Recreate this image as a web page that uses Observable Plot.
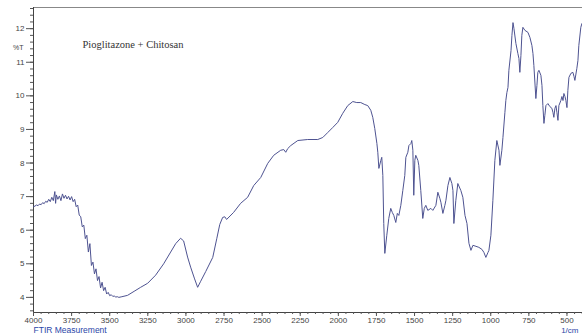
<!DOCTYPE html>
<html>
<head>
<meta charset="utf-8">
<script src="https://cdn.jsdelivr.net/npm/d3@7"></script>
<script src="https://cdn.jsdelivr.net/npm/@observablehq/plot@0.6"></script>
<style>
  html, body { margin: 0; padding: 0; background: #fff; }
  #chart { width: 582px; height: 336px; }
</style>
</head>
<body>
<div id="chart"></div>
<script>
// Wavenumber (1/cm) and transmittance (%T)
const wavenumber = [
  4000, 3990, 3980, 3970, 3960, 3950, 3940, 3930, 3920, 3910,
  3900, 3890, 3880, 3870, 3860, 3855, 3850, 3840, 3830, 3820,
  3810, 3800, 3790, 3780, 3770, 3760, 3750, 3740, 3730, 3720,
  3710, 3700, 3690, 3680, 3670, 3660, 3650, 3640, 3630, 3620,
  3610, 3600, 3590, 3580, 3570, 3560, 3550, 3540, 3530, 3520,
  3510, 3500, 3490, 3480, 3470, 3460, 3450, 3440, 3420, 3383,
  3340, 3297, 3251, 3199, 3146, 3100, 3067, 3035, 3015, 2989,
  2969, 2943, 2923, 2903, 2870, 2824, 2797, 2778, 2759, 2745,
  2733, 2687, 2641, 2595, 2555, 2509, 2463, 2424, 2378, 2358,
  2345, 2332, 2312, 2266, 2201, 2135, 2102, 2069, 2036, 2004,
  1971, 1938, 1905, 1879, 1853, 1826, 1807, 1787, 1774, 1761,
  1747, 1741, 1734, 1721, 1715, 1708, 1702, 1695, 1682, 1669,
  1656, 1646, 1636, 1623, 1613, 1603, 1590, 1577, 1564, 1557,
  1544, 1537, 1524, 1518, 1511, 1505, 1498, 1492, 1478, 1472,
  1459, 1446, 1436, 1426, 1413, 1393, 1380, 1360, 1347, 1334,
  1327, 1314, 1301, 1294, 1281, 1268, 1255, 1248, 1242, 1229,
  1216, 1196, 1183, 1169, 1156, 1143, 1130, 1117, 1097, 1078,
  1058, 1045, 1032, 1018, 1012, 999, 986, 973, 960, 946,
  940, 927, 920, 907, 901, 894, 887, 881, 867, 861,
  854, 848, 835, 822, 815, 809, 802, 796, 789, 776,
  756, 743, 730, 723, 717, 704, 697, 691, 684, 671,
  664, 658, 651, 645, 638, 625, 612, 599, 592, 586,
  579, 572, 566, 559, 553, 540, 533, 526, 520, 513,
  507, 500, 494, 487, 474, 461, 454, 448, 435, 428,
  422, 409, 402
];
const transmittance = [
  6.70, 6.72, 6.75, 6.73, 6.78, 6.76, 6.82, 6.79, 6.86, 6.83,
  6.92, 6.85, 6.98, 6.88, 7.15, 6.80, 7.05, 6.92, 7.02, 6.88,
  7.08, 6.95, 7.04, 6.93, 7.01, 6.90, 7.00, 6.85, 6.92, 6.70,
  6.75, 6.45, 6.40, 6.10, 6.15, 5.75, 5.85, 5.35, 5.60, 4.95,
  5.05, 4.70, 4.85, 4.50, 4.62, 4.28, 4.45, 4.20, 4.30, 4.10,
  4.15, 4.05, 4.08, 4.03, 4.04, 4.01, 4.02, 4.00, 4.02, 4.06,
  4.18, 4.30, 4.42, 4.66, 5.00, 5.35, 5.60, 5.76, 5.68, 5.20,
  4.90, 4.55, 4.30, 4.48, 4.77, 5.19, 5.76, 6.17, 6.38, 6.40,
  6.32, 6.53, 6.80, 6.98, 7.33, 7.57, 7.99, 8.23, 8.38, 8.40,
  8.32, 8.43, 8.52, 8.67, 8.70, 8.70, 8.76, 8.91, 9.06, 9.21,
  9.48, 9.71, 9.83, 9.80, 9.80, 9.74, 9.71, 9.57, 9.36, 9.03,
  8.58, 8.32, 7.84, 8.08, 8.17, 7.63, 6.20, 5.31, 5.85, 6.35,
  6.65, 6.53, 6.44, 6.23, 6.50, 6.44, 6.74, 7.18, 7.63, 8.17,
  8.32, 8.52, 8.58, 8.67, 8.38, 7.04, 8.08, 8.23, 8.08, 7.93,
  7.18, 6.35, 6.65, 6.74, 6.59, 6.65, 6.59, 6.74, 7.13, 6.95,
  6.83, 6.50, 6.74, 6.89, 7.33, 7.57, 7.39, 7.18, 6.20, 6.89,
  7.39, 7.18, 6.98, 6.44, 6.20, 5.61, 5.40, 5.55, 5.52, 5.49,
  5.43, 5.34, 5.19, 5.34, 5.40, 5.85, 6.89, 8.08, 8.67, 8.38,
  7.93, 8.38, 8.76, 9.51, 9.86, 10.10, 10.25, 10.76, 11.35, 11.80,
  12.18, 12.01, 11.56, 11.26, 11.11, 10.70, 11.20, 11.80, 12.04, 11.95,
  11.89, 11.74, 11.50, 11.26, 10.90, 9.92, 10.31, 10.70, 10.76, 10.61,
  10.31, 9.71, 9.18, 9.42, 9.71, 9.77, 9.68, 9.63, 9.51, 9.36,
  9.63, 9.71, 9.51, 9.27, 9.71, 9.86, 9.98, 9.86, 10.07, 9.98,
  9.86, 9.65, 10.16, 10.55, 10.67, 10.70, 10.58, 10.46, 10.82, 11.05,
  11.50, 12.04, 12.15
];
const xTickLabels = [4000, 3750, 3500, 3250, 3000, 2750, 2500, 2250, 2000, 1750, 1500, 1250, 1000, 750, 500];
const yTickLabels = [4, 5, 6, 7, 8, 9, 10, 11, 12];
const titleText = ["Pioglitazone + Chitosan"];
const yUnit = ["%T"];
const xTitle = ["FTIR Measurement"];
const xUnit = ["1/cm"];

const spectrum = wavenumber.map((w, i) => ({w, t: transmittance[i]}));
const xDomain = [4000, 398];
const yDomain = [3.55, 12.63];
const xMinor = d3.range(400, 4001, 50);
const yMinor = d3.range(36, 127, 2).map(v => v / 10);

const chart = Plot.plot({
  width: 582,
  height: 336,
  marginLeft: 33,
  marginRight: 0,
  marginTop: 7,
  marginBottom: 24,
  x: {domain: xDomain, label: null},
  y: {domain: yDomain, label: null},
  style: {fontFamily: "'Liberation Sans', Arial, sans-serif", fontSize: "8px", color: "#444", background: "#fff", overflow: "visible"},
  marks: [
    Plot.ruleY([yDomain[1]], {stroke: "#888", strokeWidth: 1}),
    Plot.ruleX([xDomain[0]], {stroke: "#444", strokeWidth: 1}),
    Plot.ruleY([yDomain[0]], {stroke: "#444", strokeWidth: 1}),
    Plot.axisX(xMinor, {tickSize: 2, text: null, label: null, stroke: "#555"}),
    Plot.axisX(xTickLabels, {tickSize: 4, tickPadding: 1, label: null, stroke: "#555", fill: "#444", tickFormat: d => String(d), fontSize: 8}),
    Plot.axisY(yMinor, {tickSize: 3, text: null, label: null, stroke: "#555"}),
    Plot.axisY(yTickLabels, {tickSize: 7, tickPadding: 2, label: null, stroke: "#555", fill: "#444", tickFormat: d => String(d), fontSize: 8}),
    Plot.line(spectrum, {x: "w", y: "t", stroke: "#4e5391", strokeWidth: 1, curve: "linear"}),
    Plot.text(titleText, {frameAnchor: "top-left", dx: 49, dy: 33, text: d => d, textAnchor: "start", fontFamily: "'Liberation Serif', 'Times New Roman', serif", fontSize: 10.5, fill: "#333"}),
    Plot.text(yUnit, {frameAnchor: "top-left", dx: -10, dy: 38, text: d => d, textAnchor: "end", fontSize: 7, fill: "#444"}),
    Plot.text(xTitle, {frameAnchor: "bottom-left", dx: 0, dy: 20, text: d => d, textAnchor: "start", fontSize: 8.5, fill: "#2a46a8"}),
    Plot.text(xUnit, {frameAnchor: "bottom-right", dx: -4, dy: 20, text: d => d, textAnchor: "end", fontSize: 8, fill: "#2a46a8"})
  ]
});
document.getElementById("chart").appendChild(chart);
</script>
</body>
</html>
